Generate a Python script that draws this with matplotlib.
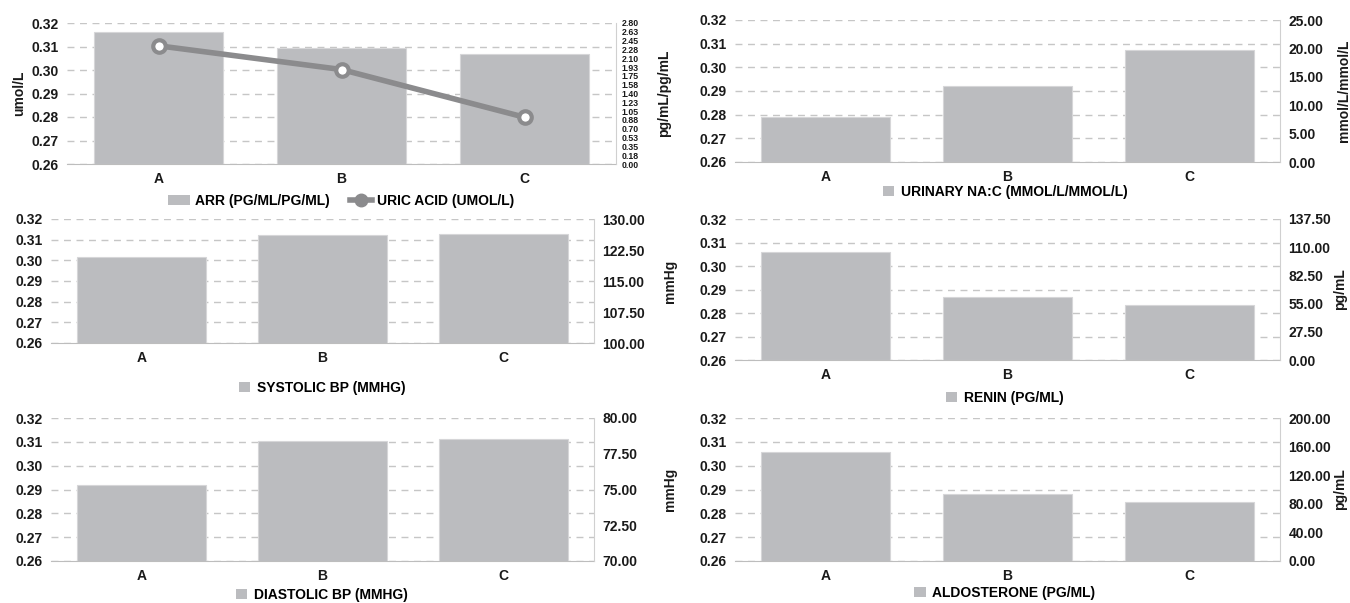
import matplotlib.pyplot as plt
import numpy as np
from matplotlib.patches import Patch
from matplotlib.lines import Line2D

plt.rcParams['font.family'] = ['Liberation Sans', 'DejaVu Sans']
plt.rcParams['font.weight'] = 'bold'
plt.rcParams['axes.labelweight'] = 'bold'

groups = ['A', 'B', 'C']
uric_acid = [0.3103, 0.3002, 0.2799]
arr = [2.62, 2.31, 2.18]
urinary_nac = [7.96, 13.35, 19.67]
systolic_bp = [120.9, 126.2, 126.4]
renin = [105.0, 61.7, 53.9]
diastolic_bp = [75.28, 78.39, 78.53]
aldosterone = [152.4, 93.9, 82.3]

left_ticks = [0.26, 0.27, 0.28, 0.29, 0.30, 0.31, 0.32]

BAR = '#bbbcbf'
LINE = '#8b8b8d'
GRID = '#c6c6c6'
TXT = '#1a1a1a'
W, H = 1350, 603

fig = plt.figure(figsize=(13.5, 6.03), dpi=100)


def rect(l, r, t, b):
    return [l / W, 1 - b / H, (r - l) / W, (b - t) / H]


def base_axes(box):
    ax = fig.add_axes(box)
    x = np.arange(len(groups))
    ax.set_xlim(-0.5, len(groups) - 0.5)
    ax.set_ylim(0.26, 0.32)
    ax.set_yticks(left_ticks)
    ax.set_yticklabels([f"{v:.2f}" for v in left_ticks], fontsize=10, color=TXT)
    ax.set_xticks(x)
    ax.set_xticklabels(groups, fontsize=10, color=TXT)
    ax.tick_params(length=0, pad=6)
    ax.yaxis.grid(True, linestyle=(0, (5, 4)), color=GRID, linewidth=1.0)
    for s in ['top', 'left', 'right']:
        ax.spines[s].set_visible(False)
    ax.spines['bottom'].set_color('#bdbdbd')
    return ax, x


def right_axes(ax, x, vals, rmin, rmax, rstep, rfont, rlabel, rlabel_x):
    ax2 = ax.twinx()
    ax2.bar(x, vals, width=0.71, color=BAR, edgecolor='#d6d6d8', linewidth=0.8)
    ax2.set_ylim(rmin, rmax)
    rt = np.linspace(rmin, rmax, int(round((rmax - rmin) / rstep)) + 1)
    ax2.set_yticks(rt)
    ax2.set_yticklabels([f"{v + 1e-9:.2f}" for v in rt], fontsize=rfont, color=TXT)
    ax2.tick_params(length=0, pad=6 if rfont > 8 else 4)
    for s in ['top', 'left', 'bottom']:
        ax2.spines[s].set_visible(False)
    ax2.spines['right'].set_color('#d0d0d0')
    ax2.set_ylabel(rlabel, fontsize=10, color=TXT, fontweight='bold')
    ax2.yaxis.set_label_coords(rlabel_x, 0.5)
    return ax2


def panel(box, vals, rmin, rmax, rstep, rlabel, rlabel_x, leg_label, leg_xy):
    ax, x = base_axes(box)
    right_axes(ax, x, vals, rmin, rmax, rstep, 10, rlabel, rlabel_x)
    handles = [Patch(facecolor=BAR, edgecolor='none')]
    fig.legend(handles, [leg_label], loc='center', bbox_to_anchor=leg_xy,
               bbox_transform=fig.transFigure, frameon=False, fontsize=10,
               handlelength=0.8, handleheight=0.8, handletextpad=0.5)


# top left: ARR bars with uric acid line
ax, x = base_axes(rect(67, 616, 23, 164))
ax.set_ylabel('umol/L', fontsize=10, color=TXT, fontweight='bold')
right_axes(ax, x, arr, 0, 2.8, 0.175, 6.3, 'pg/mL/pg/mL', 1.075)

ax3 = ax.twinx()
ax3.set_ylim(0.26, 0.32)
ax3.plot(x, uric_acid, color=LINE, linewidth=4, marker='o', markersize=9,
         markerfacecolor='white', markeredgecolor=LINE, markeredgewidth=3)
ax3.axis('off')

h1 = Patch(facecolor=BAR, edgecolor='none')
h2 = Line2D([0], [0], color=LINE, linewidth=4, marker='o', markersize=9,
            markerfacecolor=LINE, markeredgecolor=LINE)
fig.legend([h1, h2], ['ARR (PG/ML/PG/ML)', 'URIC ACID (UMOL/L)'], loc='center',
           bbox_to_anchor=(341 / W, 1 - 201 / H), bbox_transform=fig.transFigure,
           frameon=False, fontsize=10, ncol=2, handlelength=1.6, handleheight=0.8,
           handletextpad=0.3, columnspacing=1.5)

# other panels
panel(rect(735, 1280, 20, 162), urinary_nac, 0, 25, 5, 'mmol/L/mmol/L', 1.105,
      'URINARY NA:C (MMOL/L/MMOL/L)', (1005 / W, 1 - 192 / H))
panel(rect(51, 594, 219, 343), systolic_bp, 100, 130, 7.5, 'mmHg', 1.127,
      'SYSTOLIC BP (MMHG)', (322 / W, 1 - 388 / H))
panel(rect(735, 1280, 219, 360), renin, 0, 137.5, 27.5, 'pg/mL', 1.097,
      'RENIN (PG/ML)', (1005 / W, 1 - 398 / H))
panel(rect(51, 594, 418, 561), diastolic_bp, 70, 80, 2.5, 'mmHg', 1.127,
      'DIASTOLIC BP (MMHG)', (322 / W, 1 - 595 / H))
panel(rect(735, 1280, 418, 561), aldosterone, 0, 200, 40, 'pg/mL', 1.097,
      'ALDOSTERONE (PG/ML)', (1005 / W, 1 - 593 / H))

plt.savefig('out.png', dpi=100)
